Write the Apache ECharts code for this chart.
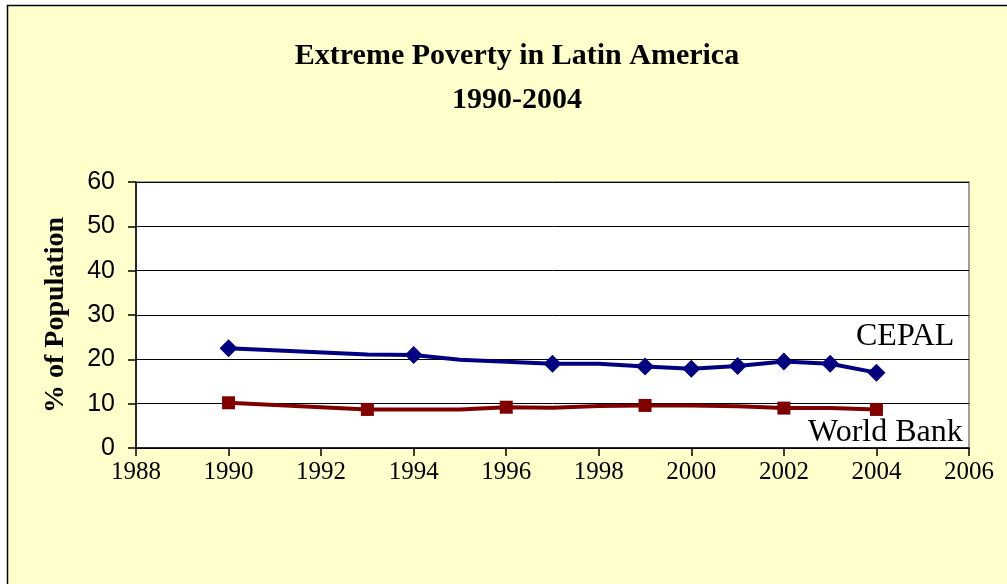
<!DOCTYPE html>
<html>
<head>
<meta charset="utf-8">
<script src="https://cdn.jsdelivr.net/npm/echarts@6/dist/echarts.min.js"></script>
<style>
html,body{margin:0;padding:0;background:#ffffff;}
#chart{width:1007px;height:584px;}
</style>
</head>
<body>
<div id="chart"></div>
<script>
// Data
const xTicks = [1988, 1990, 1992, 1994, 1996, 1998, 2000, 2002, 2004, 2006];
const yTicks = [0, 10, 20, 30, 40, 50, 60];

const cepalYears  = [1990, 1993, 1994, 1995, 1997, 1998, 1999, 2000, 2001, 2002, 2003, 2004];
const cepalValues = [22.5, 21.1, 21.0, 19.9, 19.0, 19.0, 18.4, 17.9, 18.5, 19.5, 19.0, 17.0];
const cepalMarkerYears = [1990, 1994, 1997, 1999, 2000, 2001, 2002, 2003, 2004];

const wbYears  = [1990, 1992, 1993, 1995, 1996, 1997, 1998, 1999, 2000, 2001, 2002, 2003, 2004];
const wbValues = [10.2, 9.2, 8.7, 8.7, 9.2, 9.1, 9.5, 9.6, 9.6, 9.4, 9.0, 9.0, 8.7];
const wbMarkerYears = [1990, 1993, 1996, 1999, 2002, 2004];

function build(years, values, marked) {
  return years.map((y, i) => {
    const d = { value: [y, values[i]] };
    if (marked.indexOf(y) < 0) d.symbol = 'none';
    return d;
  });
}

const chart = echarts.init(document.getElementById('chart'));
chart.setOption({
  animation: false,
  backgroundColor: '#ffffff',
  graphic: [
    { type: 'rect', z: -10, silent: true,
      shape: { x: 7.5, y: 5.5, width: 1020, height: 600 },
      style: { fill: '#FFFFCC', stroke: '#000000', lineWidth: 1.5 } },
    { type: 'text', z: 10, left: 856, top: 321,
      style: { text: 'CEPAL', font: '32px "Liberation Serif"', fill: '#000000' } },
    { type: 'text', z: 10, left: 808, top: 417,
      style: { text: 'World Bank', font: '32px "Liberation Serif"', fill: '#000000' } }
  ],
  title: {
    text: 'Extreme Poverty in Latin America\n1990-2004',
    left: 512, top: 29, textAlign: 'center',
    textStyle: { fontFamily: 'Liberation Serif', fontWeight: 'bold', fontSize: 30, lineHeight: 44, color: '#000' }
  },
  grid: {
    left: 136, right: 38, top: 182, bottom: 136,
    show: true, backgroundColor: '#ffffff', borderColor: '#808080', borderWidth: 1.5
  },
  xAxis: {
    type: 'value', min: xTicks[0], max: xTicks[xTicks.length - 1], interval: 2,
    axisLine: { show: true, onZero: false, lineStyle: { color: '#000', width: 1.5 } },
    axisTick: { show: true, inside: false, length: 8, lineStyle: { color: '#000', width: 1.5 } },
    splitLine: { show: false },
    axisLabel: { margin: 12, fontFamily: 'Liberation Serif', fontSize: 25, color: '#000',
      formatter: v => String(v) }
  },
  yAxis: {
    type: 'value', min: yTicks[0], max: yTicks[yTicks.length - 1], interval: 10,
    name: '% of Population', nameLocation: 'middle', nameGap: 66, nameRotate: 90,
    nameTextStyle: { fontFamily: 'Liberation Serif', fontWeight: 'bold', fontSize: 28, color: '#000' },
    axisLine: { show: true, lineStyle: { color: '#000', width: 1.5 } },
    axisTick: { show: true, inside: false, length: 8, lineStyle: { color: '#000', width: 1.5 } },
    splitLine: { show: true, lineStyle: { color: '#000', width: 1 } },
    axisLabel: { margin: 21, fontFamily: 'Liberation Sans', fontSize: 25, color: '#000' }
  },
  series: [
    { name: 'CEPAL', type: 'line', data: build(cepalYears, cepalValues, cepalMarkerYears),
      symbol: 'diamond', symbolSize: 18, showAllSymbol: true,
      lineStyle: { color: '#000080', width: 4 }, itemStyle: { color: '#000080' } },
    { name: 'World Bank', type: 'line', data: build(wbYears, wbValues, wbMarkerYears),
      symbol: 'rect', symbolSize: 13, showAllSymbol: true,
      lineStyle: { color: '#800000', width: 4 }, itemStyle: { color: '#800000' } }
  ]
});
</script>
</body>
</html>
